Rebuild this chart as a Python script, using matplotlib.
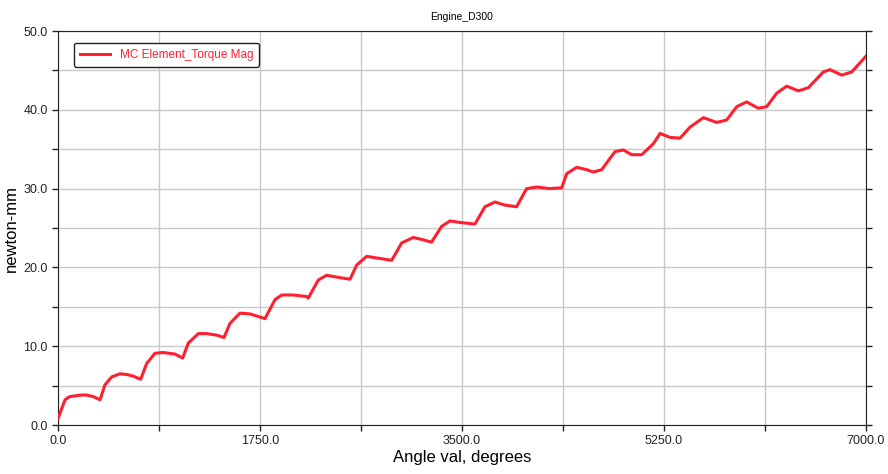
import numpy as np
from matplotlib import pyplot as plt
from matplotlib.ticker import MultipleLocator, FuncFormatter

plt.rcParams['font.family'] = ['Liberation Sans', 'DejaVu Sans']

# Angle [deg] and torque magnitude [newton-mm]
angle = [0, 30, 61, 100, 147, 200, 249, 306, 364, 407, 465, 537, 600, 652, 716,
         768, 840, 912, 1014, 1080, 1129, 1216, 1288, 1375, 1438, 1490, 1577,
         1663, 1750, 1793, 1880, 1937, 2038, 2153, 2168, 2255, 2327, 2443, 2530,
         2588, 2674, 2761, 2891, 2977, 3078, 3164, 3236, 3323, 3396, 3482, 3612,
         3699, 3786, 3872, 3973, 4060, 4147, 4262, 4364, 4407, 4494, 4580, 4638,
         4710, 4826, 4898, 4970, 5057, 5158, 5216, 5302, 5389, 5475, 5591, 5707,
         5793, 5880, 5966, 6067, 6140, 6226, 6313, 6414, 6500, 6630, 6688, 6790,
         6876, 7000]
torque = [0.8, 2.0, 3.2, 3.6, 3.7, 3.8, 3.8, 3.6, 3.2, 5.1, 6.1, 6.5, 6.4, 6.2, 5.8,
          7.8, 9.1, 9.2, 9.0, 8.5, 10.4, 11.6, 11.6, 11.4, 11.1, 12.9, 14.2,
          14.1, 13.7, 13.5, 15.9, 16.5, 16.5, 16.3, 16.1, 18.4, 19.0, 18.7, 18.5,
          20.3, 21.4, 21.2, 20.9, 23.1, 23.8, 23.5, 23.2, 25.2, 25.9, 25.7, 25.5,
          27.7, 28.3, 27.9, 27.7, 30.0, 30.2, 30.0, 30.1, 31.9, 32.7, 32.4, 32.1,
          32.4, 34.7, 34.9, 34.3, 34.3, 35.7, 37.0, 36.5, 36.4, 37.8, 39.0, 38.4,
          38.7, 40.4, 41.0, 40.2, 40.4, 42.1, 43.0, 42.4, 42.8, 44.8, 45.1, 44.4,
          44.8, 46.8]

fig = plt.figure(figsize=(8.88, 4.74), dpi=100)
ax = fig.add_axes([58/888, 49/474, 808/888, 394/474])

ax.plot(angle, torque, color='#ff1f30', lw=2.2, label='MC Element_Torque Mag', zorder=5)

ax.set_xlim(0, 7000)
ax.set_ylim(0, 50)
ax.xaxis.set_major_locator(MultipleLocator(875))
ax.yaxis.set_major_locator(MultipleLocator(5))
ax.xaxis.set_major_formatter(FuncFormatter(lambda v, p: '%.1f' % v if v % 1750 == 0 else ''))
ax.yaxis.set_major_formatter(FuncFormatter(lambda v, p: '%.1f' % v if v % 10 == 0 else ''))
ax.grid(color='#c8c8c8', lw=1.0, zorder=0)
ax.tick_params(direction='out', length=4, width=1., labelsize=9, colors='#222222',
               right=True)
for s in ax.spines.values():
    s.set_color('#222222')

ax.set_title('Engine_D300', fontsize=7.5, pad=8)
ax.set_xlabel('Angle val, degrees', fontsize=12, labelpad=2)
ax.set_ylabel('newton-mm', fontsize=12, labelpad=3)

leg = ax.legend(loc='upper left', bbox_to_anchor=(0.012, 0.985), fontsize=8.5,
                frameon=True, fancybox=True, edgecolor='#222222', handlelength=2.6,
                borderpad=0.5, framealpha=1)
for t in leg.get_texts():
    t.set_color('#ff1f30')

fig.savefig('out.png', dpi=100)
